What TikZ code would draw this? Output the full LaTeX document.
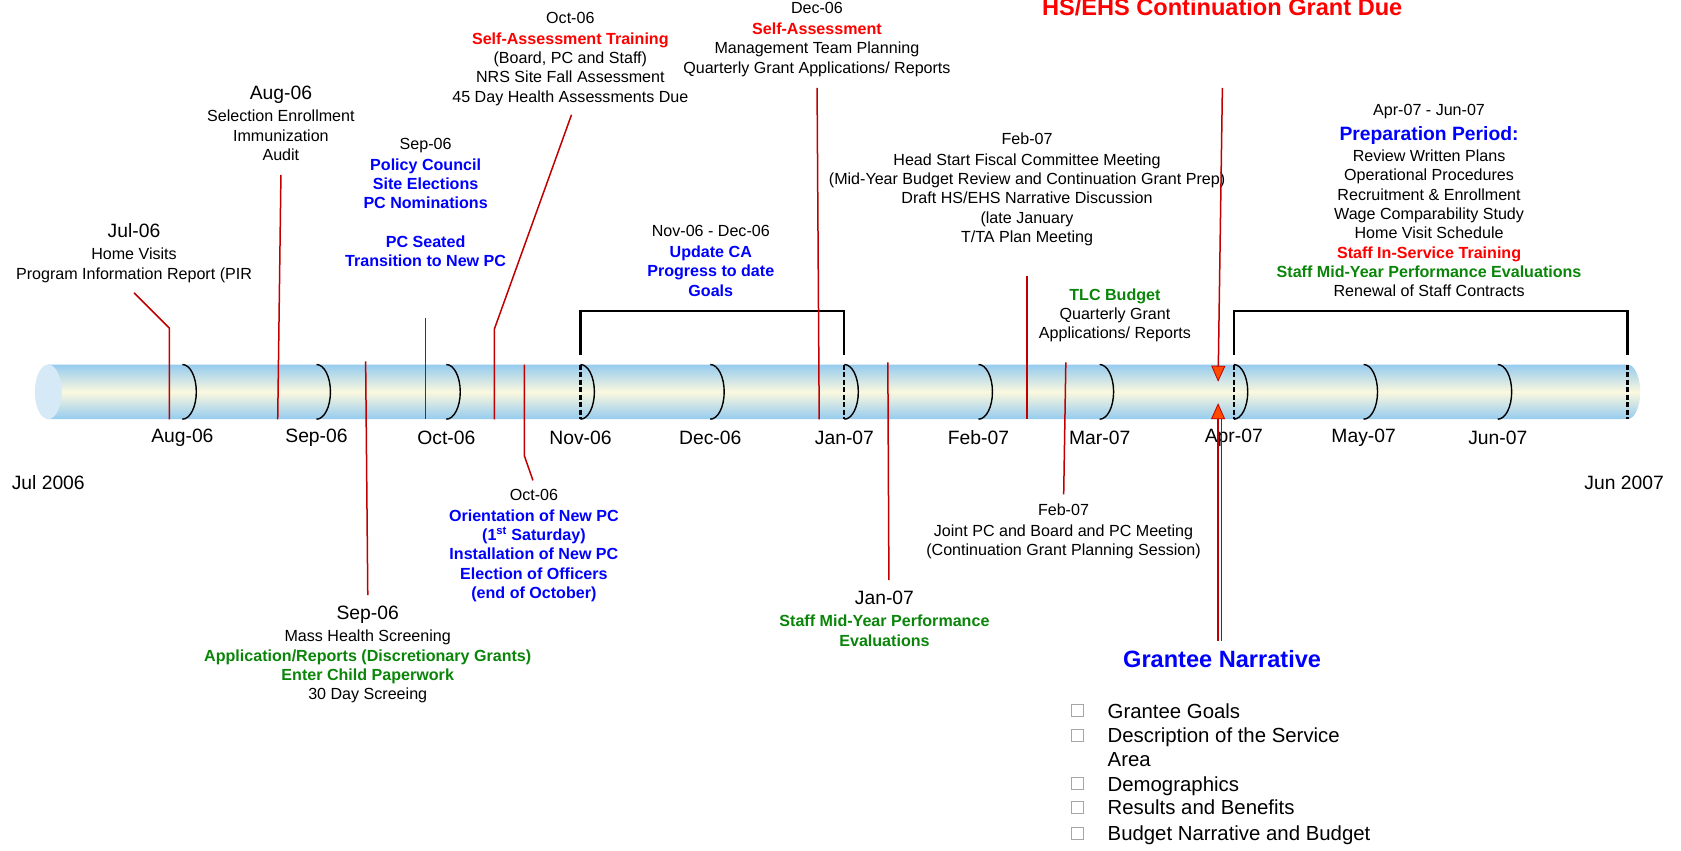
\documentclass[tikz,border=0pt]{standalone}
\usepackage{fontspec}
\setmainfont{Liberation Sans}
\usetikzlibrary{arrows.meta}
\definecolor{leadred}{HTML}{C00000}
\definecolor{evred}{HTML}{FF0000}
\definecolor{evblue}{HTML}{0000FF}
\definecolor{evgreen}{HTML}{0A850A}
\definecolor{tubeblue}{HTML}{95CBEF}
\definecolor{tubecream}{HTML}{FBF8DE}
\definecolor{capblue}{HTML}{D5E9F6}
\definecolor{tipred}{HTML}{FF4A00}
\newcommand{\hired}[1]{{\bfseries\color{evred}#1}}
\newcommand{\hiblue}[1]{{\bfseries\color{evblue}#1}}
\newcommand{\higreen}[1]{{\bfseries\color{evgreen}#1}}
\newcommand{\bigdate}[1]{{\fontsize{18}{18}\selectfont #1}}
\begin{document}
\begin{tikzpicture}[x=1pt,y=-1pt,scale=1.0721,
    every node/.style={transform shape,inner sep=0pt,align=center,font=\fontsize{15}{18}\selectfont},
    event/.style={anchor=north},
    monthlab/.style={font=\fontsize{18}{22}\selectfont},
    leader/.style={leadred,line width=1.5pt},
    montharc/.style={black,line width=1.4pt},
    splitline/.style={black,line width=2.2pt,dash pattern=on 5pt off 2.5pt},
    spanline/.style={black,line width=2.2pt},
    tickbox/.style={draw=gray!70,line width=0.8pt,minimum size=11pt},
    listitem/.style={anchor=base west,font=\fontsize{19}{22}\selectfont},
    duetip/.style={-{Triangle[width=14pt,length=16pt,fill=tipred,line width=0.8pt]}}]
    \useasboundingbox (0,0) rectangle (1568,793);
    \shade[top color=tubeblue,bottom color=tubeblue,middle color=tubecream] (45,340) -- (1518,340)
        arc[start angle=-90,end angle=90,x radius=12,y radius=25.5] -- (45,391) -- cycle;
    \fill[capblue] (45,365.5) ellipse[x radius=12.5,y radius=25.5];
    \foreach \d/\m in {31/Aug-06,62/Sep-06,92/Oct-06,123/Nov-06,153/Dec-06,184/Jan-07,215/Feb-07,243/Mar-07,274/Apr-07,304/May-07,335/Jun-07} {
        \draw[montharc] ({45+4.036*\d},340) arc[start angle=-90,end angle=90,x radius=13,y radius=25.5];
        \node[monthlab] at ({45+4.036*\d},408) (\m) {\m};
    }
    \foreach \d in {123,184,274,365}
        \draw[splitline] ({45+4.036*\d},340) -- ({45+4.036*\d},391);
    \draw[spanline] (541.4,331) |- (787.6,290) -- (787.6,331);
    \draw[spanline] (1150.9,331) |- (1518.1,290) -- (1518.1,331);
    \node[monthlab] at (45,450) (start) {Jul 2006};
    \node[monthlab] at (1515,450) (end) {Jun 2007};

    \node[event] at (125,208) (jul06) {\bigdate{Jul-06}\\[3pt] Home Visits\\ Program Information Report (PIR};
    \node[event] at (262,80) (aug06) {\bigdate{Aug-06}\\[3pt] Selection Enrollment\\ Immunization\\ Audit};
    \node[event] at (397,129) (sep06top) {Sep-06\\[1pt] \hiblue{Policy Council}\\ \hiblue{Site Elections}\\ \hiblue{PC Nominations}\\[18pt] \hiblue{PC Seated}\\ \hiblue{Transition to New PC}};
    \node[event] at (532,11) (oct06top) {Oct-06\\[1.5pt] \hired{Self-Assessment Training}\\ (Board, PC and Staff)\\ NRS Site Fall Assessment\\ 45 Day Health Assessments Due};
    \node[event] at (762,2) (dec06) {Dec-06\\[1.5pt] \hired{Self-Assessment}\\ Management Team Planning\\ Quarterly Grant Applications/ Reports};
    \node[event] at (663,210) (novdec) {Nov-06 - Dec-06\\[1.5pt] \hiblue{Update CA}\\ \hiblue{Progress to date}\\ \hiblue{Goals}};
    \node[event] at (958,124) (feb06top) {Feb-07\\[1pt] Head Start Fiscal Committee Meeting\\ (Mid-Year Budget Review and Continuation Grant Prep)\\ Draft HS/EHS Narrative Discussion\\ (late January\\ T/TA Plan Meeting};
    \node[event] at (1040,269) (tlc) {\higreen{TLC Budget}\\ Quarterly Grant\\ Applications/ Reports};
    \node[anchor=base,font=\fontsize{22}{22}\selectfont\bfseries,text=evred] at (1140,14) (grantdue) {HS/EHS Continuation Grant Due};
    \node[event] at (1333,97) (aprjun) {Apr-07 - Jun-07\\[5pt] {\fontsize{18}{18}\selectfont\hiblue{Preparation Period:}}\\[2pt] Review Written Plans\\ Operational Procedures\\ Recruitment \& Enrollment\\ Wage Comparability Study\\ Home Visit Schedule\\ \hired{Staff In-Service Training}\\ \higreen{Staff Mid-Year Performance Evaluations}\\ Renewal of Staff Contracts};
    \node[event] at (498,456) (oct06low) {Oct-06\\[1.5pt] \hiblue{Orientation of New PC}\\ \hiblue{(1\textsuperscript{st} Saturday)}\\ \hiblue{Installation of New PC}\\ \hiblue{Election of Officers}\\ \hiblue{(end of October)}};
    \node[event] at (343,565) (sep06low) {\bigdate{Sep-06}\\[3pt] Mass Health Screening\\ \higreen{Application/Reports (Discretionary Grants)}\\ \higreen{Enter Child Paperwork}\\ 30 Day Screeing};
    \node[event] at (825,551) (jan07low) {\bigdate{Jan-07}\\[3pt] \higreen{Staff Mid-Year Performance}\\ \higreen{Evaluations}};
    \node[event] at (992,470) (feb07low) {Feb-07\\[1.5pt] Joint PC and Board and PC Meeting\\ (Continuation Grant Planning Session)};
    \node[font=\fontsize{22}{22}\selectfont\bfseries,text=evblue] at (1140,615) (grantee) {Grantee Narrative};

    \coordinate (jul-top) at (125,273);
    \coordinate (jul-bend) at (158,306);
    \coordinate (jul-foot) at (158,391);
    \coordinate (aug-top) at (262,163);
    \coordinate (aug-foot) at (259,391);
    \coordinate (sepl-top) at (341,337);
    \coordinate (sepl-foot) at (343,555);
    \coordinate (sept-top) at (397,297);
    \coordinate (sept-foot) at (397,391);
    \coordinate (octt-top) at (533,107);
    \coordinate (octt-bend) at (461,307);
    \coordinate (octt-foot) at (461,391);
    \coordinate (octl-top) at (489,340);
    \coordinate (octl-bend) at (489,425);
    \coordinate (octl-foot) at (497,448);
    \coordinate (dec-top) at (762,82);
    \coordinate (dec-foot) at (764,391);
    \coordinate (jan-top) at (828,338);
    \coordinate (jan-foot) at (829,541);
    \coordinate (febt-top) at (958,257);
    \coordinate (febt-foot) at (958,391);
    \coordinate (febl-top) at (994,338);
    \coordinate (febl-foot) at (992,461);
    \coordinate (due-top) at (1140,82);
    \coordinate (due-tip) at (1136,356);
    \coordinate (narr-top) at (1136,598);
    \coordinate (narr-tip) at (1136,376);
    \coordinate (narr-top2) at (1139,598);
    \coordinate (narr-foot2) at (1139,391);
    \draw[leader] (jul-top) -- (jul-bend) -- (jul-foot);
    \draw[leader] (aug-top) -- (aug-foot);
    \draw[leader] (sepl-top) -- (sepl-foot);
    \draw[leader] (sept-top) -- (sept-foot);
    \draw[leader] (octt-top) -- (octt-bend) -- (octt-foot);
    \draw[leader] (octl-top) -- (octl-bend) -- (octl-foot);
    \draw[leader] (dec-top) -- (dec-foot);
    \draw[leader] (jan-top) -- (jan-foot);
    \draw[leader] (febt-top) -- (febt-foot);
    \draw[leader] (febl-top) -- (febl-foot);
    \draw[leader,duetip] (due-top) -- (due-tip);
    \draw[leader] (narr-top2) -- (narr-foot2);
    \draw[leader,duetip] (narr-top) -- (narr-tip);

    \foreach \y/\t/\n in {663/Grantee Goals/g1,686/Description of the Service/g2,731/Demographics/g4,753/Results and Benefits/g5,777/Budget Narrative and Budget/g6} {
        \node[tickbox] at (1005,\y) (box-\n) {};
        \node[listitem] at (1033,\y+7) (\n) {\t};
    }
    \node[listitem] at (1033,715) (g3) {Area};
\end{tikzpicture}
\end{document}
